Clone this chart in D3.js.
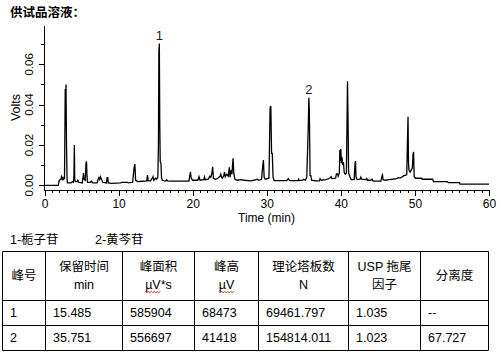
<!DOCTYPE html>
<html><head><meta charset="utf-8">
<script src="https://cdn.jsdelivr.net/npm/d3@7"></script>
<style>body{margin:0;background:#fff}svg{display:block}</style>
</head><body>
<svg id="c" width="501" height="358"></svg>
<script>
// ---------- DATA ----------
const chartTitle = "供试品溶液：";
const xLabel = "Time (min)";
const yLabel = "Volts";
const xMajorTicks = [0, 10, 20, 30, 40, 50, 60];
const xMinorTicks = d3.range(0, 61, 1);
const yMajorTicks = [0, 0.02, 0.04, 0.06];
const yMinorTicks = [0.01, 0.03, 0.05, 0.07];
const yTickLabels = ["0.00", "0.02", "0.04", "0.06"];

// chromatogram trace: time (min) and signal (V)
const times = [0,1.85,2.0,2.2,2.3,2.4,2.5,2.6,2.7,2.75,2.8,2.85,2.9,2.97,3.05,3.1,3.6,3.75,3.9,3.97,4.03,4.08,4.15,4.4,4.5,4.6,5.1,5.2,5.27,5.33,5.5,5.6,5.67,5.72,5.8,6.2,6.35,6.5,7.1,7.25,7.35,7.45,7.55,7.7,7.85,8.35,8.45,8.55,8.6,9.0,10.3,10.4,11.2,11.3,11.9,12.1,12.2,12.3,12.6,13.2,13.8,13.9,14.0,14.3,14.55,14.65,14.75,15.0,15.15,15.3,15.38,15.44,15.5,15.56,15.62,15.72,15.8,15.9,16.2,16.4,16.5,16.6,17.0,19.5,19.6,19.7,19.8,20.0,20.7,20.85,21.0,21.5,21.6,21.7,22.1,22.3,22.45,22.6,22.7,22.8,23.1,23.4,23.7,23.8,23.9,24.0,24.2,24.3,24.4,24.6,24.8,24.95,25.05,25.2,25.3,25.45,25.55,25.7,26.0,26.5,27.0,27.8,28.3,28.7,28.9,29.3,29.45,29.55,29.65,29.8,30.3,30.45,30.55,30.65,30.75,30.85,31.0,32.7,32.9,33.1,34.2,34.3,34.4,34.85,34.95,35.2,35.4,35.6,35.68,35.75,35.85,35.95,36.05,36.6,37.1,37.2,37.35,38.0,38.5,38.7,38.8,39.3,39.4,39.55,39.65,39.8,39.87,39.92,40.0,40.08,40.15,40.25,40.35,40.45,40.6,40.75,40.8,40.9,40.98,41.05,41.2,41.4,41.8,41.92,41.98,42.05,42.2,42.6,42.7,42.8,43.4,43.5,43.6,44.0,44.2,44.35,45.4,45.55,45.62,45.7,46.0,46.5,47.0,47.5,47.8,48.0,48.3,48.5,48.8,48.9,49.0,49.07,49.13,49.2,49.35,49.5,49.65,49.75,49.82,49.9,50.1,50.9,51.0,52.4,52.5,54.4,54.5,56.0,56.1,60];
const volts = [0,0,0.0025,0.003,0.0043,0.003,0.0038,0.003,0.0035,0.025,0.0477,0.03,0.05,0.02,0.003,0.0012,0.0012,0.0018,0.0015,0.004,0.02,0.003,0.0018,0.0018,0.0025,0.0015,0.0012,0.004,0.006,0.003,0.0025,0.011,0.0118,0.006,0.0015,0.0015,0.002,0.0012,0.0012,0.003,0.0038,0.003,0.0043,0.003,0.0015,0.0012,0.0038,0.0038,0.0012,0.001,0.0012,0.0015,0.0015,0.0012,0.0015,0.009,0.0105,0.0025,0.0018,0.002,0.0022,0.0051,0.0022,0.0022,0.0035,0.0043,0.0025,0.0035,0.003,0.0042,0.02,0.0664,0.0703,0.03,0.0117,0.011,0.0035,0.0025,0.0022,0.0022,0.0028,0.0022,0.0021,0.0021,0.0045,0.0067,0.0035,0.0025,0.0025,0.0043,0.0025,0.0028,0.0042,0.0028,0.003,0.0045,0.004,0.006,0.0092,0.0035,0.003,0.0035,0.0045,0.0055,0.004,0.0035,0.0048,0.0066,0.0042,0.0055,0.0045,0.0089,0.004,0.0075,0.0055,0.0134,0.006,0.003,0.0025,0.0028,0.0025,0.0022,0.0025,0.003,0.0025,0.003,0.0095,0.0125,0.004,0.003,0.0035,0.0385,0.0393,0.0158,0.0158,0.004,0.0023,0.0023,0.0033,0.0023,0.0023,0.003,0.0023,0.0025,0.003,0.0025,0.004,0.028,0.0434,0.0373,0.0048,0.0048,0.0025,0.0022,0.0022,0.0033,0.0025,0.0028,0.0035,0.0043,0.0033,0.0035,0.0057,0.0057,0.0045,0.006,0.0175,0.012,0.018,0.011,0.014,0.01,0.0115,0.0065,0.0055,0.006,0.02,0.0516,0.03,0.0062,0.0045,0.0028,0.0028,0.011,0.012,0.004,0.0028,0.003,0.004,0.003,0.0028,0.0033,0.0025,0.0025,0.003,0.0021,0.0021,0.0045,0.0051,0.0028,0.0025,0.0028,0.003,0.0033,0.0038,0.0036,0.0042,0.0048,0.005,0.0056,0.0229,0.034,0.0116,0.0075,0.0065,0.0075,0.0085,0.0155,0.0166,0.0043,0.0035,0.0035,0.003,0.003,0.0018,0.0018,0.0013,0.0013,0.0006,0.0006];

const peakNames = ["1", "2"];
const peakTimes = [15.5, 35.68];
const peakHeights = [0.0703, 0.0434];

const legendItems = ["1-栀子苷", "2-黄芩苷"];
const headerLine1 = ["峰号", "保留时间", "峰面积", "峰高", "理论塔板数", "USP 拖尾", "分离度"];
const headerLine2 = ["", "min", "µV*s", "µV", "N", "因子", ""];
const colPeak = ["1", "2"];
const colRT = ["15.485", "35.751"];
const colArea = ["585904", "556697"];
const colHeight = ["68473", "41418"];
const colPlates = ["69461.797", "154814.011"];
const colTailing = ["1.035", "1.023"];
const colResolution = ["--", "67.727"];

// ---------- DRAW ----------
const svg = d3.select("#c");
const LAT = "'Liberation Sans', Arial, 'Noto Sans CJK SC', sans-serif";
const CJK = "'Liberation Sans', 'Noto Sans CJK SC', sans-serif";

svg.append("text").attr("x", 10).attr("y", 16.5)
  .attr("font-family", "'Noto Sans CJK SC', sans-serif").attr("font-weight", "bold")
  .attr("font-size", 12.5).attr("fill", "#000").text(chartTitle);

const x = d3.scaleLinear().domain([0, 60]).range([44.5, 489]);
const y = d3.scaleLinear().domain([-0.00233, 0.0795]).range([190, 25]);

const g = svg.append("g");
// x axis
const xMinor = d3.axisBottom(x).tickValues(xMinorTicks).tickSize(3).tickSizeOuter(0).tickFormat("");
const xMajor = d3.axisBottom(x).tickValues(xMajorTicks).tickSize(6).tickSizeOuter(0).tickPadding(3);
const gxm = g.append("g").attr("transform", "translate(0,190)").call(xMinor);
const gx = g.append("g").attr("transform", "translate(0,190)").call(xMajor);
[gxm, gx].forEach(a => {
  a.selectAll("path,line").attr("stroke", "#000").attr("shape-rendering", "crispEdges");
});
gx.select(".domain").attr("d", `M44,0.5H489.5`);
gxm.select(".domain").remove();
gx.selectAll("text").attr("font-family", LAT).attr("font-size", 12).attr("fill", "#000");

// y axis
const yMinor = d3.axisLeft(y).tickValues(yMinorTicks).tickSize(3).tickSizeOuter(0).tickFormat("");
const yMajor = d3.axisLeft(y).tickValues(yMajorTicks).tickSize(5).tickSizeOuter(0).tickFormat("");
const gym = g.append("g").attr("transform", "translate(44,0)").call(yMinor);
const gy = g.append("g").attr("transform", "translate(44,0)").call(yMajor);
[gym, gy].forEach(a => a.selectAll("path,line").attr("stroke", "#000").attr("shape-rendering", "crispEdges"));
gym.select(".domain").remove();
gy.selectAll(".tick text").remove();
yMajorTicks.forEach((v, i) => {
  g.append("text").attr("x", 33.5).attr("y", y(v))
    .attr("transform", `rotate(-90,33.5,${y(v)})`).attr("text-anchor", "middle")
    .attr("font-family", LAT).attr("font-size", 11.5).attr("fill", "#000").text(yTickLabels[i]);
});

svg.append("text").attr("x", 266.5).attr("y", 221.5).attr("text-anchor", "middle")
  .attr("font-family", LAT).attr("font-size", 12).attr("fill", "#000").text(xLabel);
svg.append("text").attr("x", 20).attr("y", 107.5).attr("transform", "rotate(-90,20,107.5)")
  .attr("text-anchor", "middle").attr("font-family", LAT).attr("font-size", 12.5).attr("fill", "#000").text(yLabel);

// trace
const pts = times.map((t, i) => [t, volts[i]]);
const line = d3.line().x(d => x(d[0])).y(d => y(d[1]));
svg.append("path").datum(pts).attr("d", line).attr("fill", "none")
  .attr("stroke", "#000").attr("stroke-width", 1.3).attr("stroke-linejoin", "miter");

// peak labels
peakNames.forEach((n, i) => {
  svg.append("text").attr("x", x(peakTimes[i])).attr("y", y(peakHeights[i]) - 3.5)
    .attr("text-anchor", "middle").attr("font-family", LAT).attr("font-size", 13)
    .attr("fill", "#1a1a2a").text(n);
});

// legend line
const legX = [10, 95];
legendItems.forEach((s, i) => {
  svg.append("text").attr("x", legX[i]).attr("y", 243.5).attr("font-family", CJK)
    .attr("font-size", 12.5).attr("fill", "#000").text(s);
});

// table
const colX = [2.5, 45.5, 122.5, 194.5, 258.5, 348.5, 420.5, 488.5];
const rowY = [251.5, 300.5, 325.5, 350.5];
const tg = svg.append("g").attr("stroke", "#000").attr("stroke-width", 1);
rowY.forEach(yy => tg.append("line").attr("x1", colX[0]).attr("x2", colX[colX.length - 1]).attr("y1", yy).attr("y2", yy));
colX.forEach(xx => tg.append("line").attr("x1", xx).attr("x2", xx).attr("y1", rowY[0]).attr("y2", rowY[rowY.length - 1]));

headerLine1.forEach((h, i) => {
  const cx = (colX[i] + colX[i + 1]) / 2;
  const single = headerLine2[i] === "";
  svg.append("text").attr("x", cx).attr("y", single ? 280 : 270.5).attr("text-anchor", "middle")
    .attr("font-family", CJK).attr("font-size", 12.5).attr("fill", "#000").text(h);
  if (!single) {
    const t = svg.append("text").attr("x", cx).attr("y", 288.5).attr("text-anchor", "middle")
      .attr("font-family", CJK).attr("font-size", 12.5).attr("fill", "#000").text(headerLine2[i]);
    if (headerLine2[i].startsWith("µV")) {
      const node = t.node();
      const bb = node.getBBox();
      const w = node.getSubStringLength(0, 2);
      const x0 = bb.x, x1 = bb.x + w;
      let d = `M${x0},291.2`;
      let up = false;
      for (let xx = x0 + 1.5; xx <= x1 + 0.1; xx += 1.5) { d += `L${xx},${up ? 291.2 : 293}`; up = !up; }
      svg.append("path").attr("d", d).attr("fill", "none").attr("stroke", "#e0302a").attr("stroke-width", 0.9);
    }
  }
});

const cols = [colPeak, colRT, colArea, colHeight, colPlates, colTailing, colResolution];
const rowBase = [316.5, 341.5];
cols.forEach((c, ci) => {
  c.forEach((v, ri) => {
    svg.append("text").attr("x", colX[ci] + 7.5).attr("y", rowBase[ri])
      .attr("font-family", LAT).attr("font-size", 12.5).attr("fill", "#000").text(v);
  });
});
</script>
</body></html>
